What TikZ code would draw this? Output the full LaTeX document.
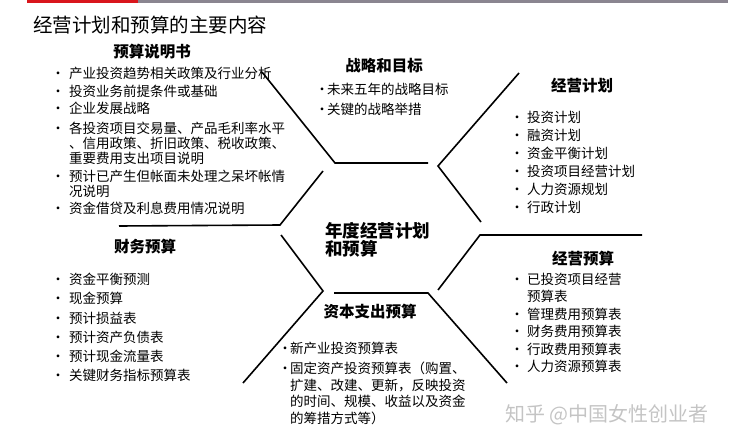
\documentclass[tikz,border=0pt]{standalone}
\usepackage{fontspec}
\setmainfont{Noto Sans CJK SC}
\usetikzlibrary{positioning}

\definecolor{barred}{HTML}{D9161C}
\definecolor{bargray}{HTML}{8A8590}
\definecolor{markgray}{HTML}{C4C4C4}

\tikzset{
  head/.style={font=\fontsize{15.5}{17}\selectfont\bfseries, inner sep=0pt},
  items/.style={align=left, anchor=north west, inner sep=0pt},
  frame/.style={line width=1.6pt, line join=miter},
}
\newcommand{\bul}[1][22pt]{\leavevmode\llap{\makebox[#1][c]{•}}}

\begin{document}
\begin{tikzpicture}[x=1pt, y=-1pt]
    \useasboundingbox (0,0) rectangle (753,447);

    % Top bar
    \fill[barred] (27,0) rectangle (138,3);
    \fill[bargray] (138,0) rectangle (728,3);

    % Title
    \node[anchor=west, inner sep=0pt, font=\fontsize{19.5}{21}\selectfont] (title) at (33,25) {经营计划和预算的主要内容};

    % Frame lines round the centre
    \draw[frame] (262,72) -- (335,163) -- (428,163);
    \draw[frame] (519,73) -- (438,166) -- (481,222);
    \draw[frame] (323,171) -- (280,225) -- (119,226);
    \draw[frame] (281,235) -- (323,291) -- (243,383);
    \draw[frame] (642,235) -- (480,235) -- (438,290);
    \draw[frame] (334,293) -- (428,293) -- (507,383);

    % Centre
    \node[items, font=\fontsize{17.5}{18}\selectfont\bfseries] (center) at (325,222.5) {年度经营计划\\和预算};

    % Budget notes
    \node[head] (notes) at (152,52) {预算说明书};
    \node[items, font=\fontsize{13.5}{15}\selectfont] (noteslist) at (69,67) {%
        \bul 产业投资趋势相关政策及行业分析\\[3pt]
        \bul 投资业务前提条件或基础\\[2pt]
        \bul 企业发展战略\\[5pt]
        \bul 各投资项目交易量、产品毛利率水平\\
        、信用政策、折旧政策、税收政策、\\
        重要费用支出项目说明\\[3pt]
        \bul 预计已产生但帐面未处理之呆坏帐情\\
        况说明\\[2pt]
        \bul 资金借贷及利息费用情况说明};

    % Strategy
    \node[head] (strategy) at (384,66) {战略和目标};
    \node[items, font=\fontsize{13.5}{20}\selectfont] (strategylist) at (327,83) {%
        \bul[10pt]未来五年的战略目标\\
        \bul[10pt]关键的战略举措};

    % Operating plan
    \node[head] (opplan) at (582,86) {经营计划};
    \node[items, font=\fontsize{13.5}{18}\selectfont] (opplanlist) at (527,111) {%
        \bul[20pt]投资计划\\
        \bul[20pt]融资计划\\
        \bul[20pt]资金平衡计划\\
        \bul[20pt]投资项目经营计划\\
        \bul[20pt]人力资源规划\\
        \bul[20pt]行政计划};

    % Financial budget
    \node[head] (finbud) at (145,247) {财务预算};
    \node[items, font=\fontsize{13.5}{19.2}\selectfont] (finbudlist) at (69,273) {%
        \bul 资金平衡预测\\
        \bul 现金预算\\
        \bul 预计损益表\\
        \bul 预计资产负债表\\
        \bul 预计现金流量表\\
        \bul 关键财务指标预算表};

    % Operating budget
    \node[head] (opbud) at (583,259) {经营预算};
    \node[items, font=\fontsize{13.5}{17.4}\selectfont] (opbudlist) at (527,273) {%
        \bul[20pt]已投资项目经营\\
        预算表\\
        \bul[20pt]管理费用预算表\\
        \bul[20pt]财务费用预算表\\
        \bul[20pt]行政费用预算表\\
        \bul[20pt]人力资源预算表};

    % Capital expenditure budget
    \node[head] (capex) at (370,312) {资本支出预算};
    \node[items, font=\fontsize{13.5}{16.5}\selectfont] (capexlist) at (290,342) {%
        \bul[10pt]新产业投资预算表\\[3.5pt]
        \bul[10pt]固定资产投资预算表（购置、\\
        扩建、改建、更新，反映投资\\
        的时间、规模、收益以及资金\\
        的筹措方式等）};

    % Watermark
    \node[anchor=west, inner sep=0pt, text=markgray, font=\fontsize{20}{22}\selectfont] (mark) at (505,415) {知乎 @中国女性创业者};
\end{tikzpicture}
\end{document}
